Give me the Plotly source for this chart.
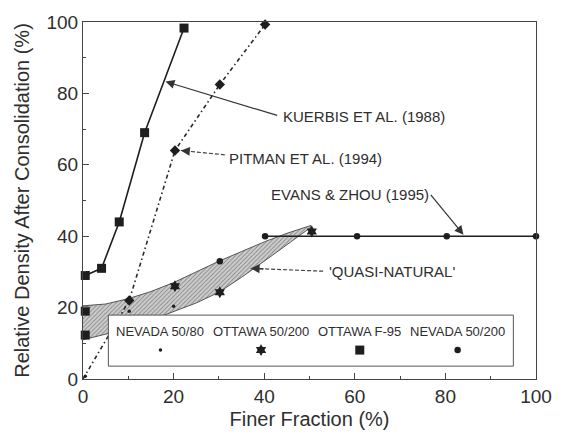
import plotly.graph_objects as go

# ---------------- data ----------------
kuerbis_x = [0.5, 4.1, 8.0, 13.6, 22.3]
kuerbis_y = [29.0, 31.0, 44.0, 69.0, 98.3]

pitman_line_x = [0.0, 10.2, 20.3, 30.2, 40.2]
pitman_line_y = [0.0, 22.0, 64.0, 82.5, 99.3]
pitman_pts_x = [10.2, 20.3, 30.2, 40.2]
pitman_pts_y = [22.0, 64.0, 82.5, 99.3]

evans_line_x = [40.2, 100.0]
evans_line_y = [40.0, 40.0]

nevada_50_80_x = [0.5, 10.2, 20.0]
nevada_50_80_y = [0.8, 19.0, 20.4]
ottawa_50_200_x = [20.3, 30.2, 50.5]
ottawa_50_200_y = [26.0, 24.3, 41.3]
ottawa_f95_x = [0.5, 0.5]
ottawa_f95_y = [19.0, 12.3]
nevada_50_200_x = [30.2, 40.2, 60.5, 80.3, 100.0]
nevada_50_200_y = [33.0, 40.0, 40.0, 40.0, 40.0]

quasi_upper_x = [0, 5, 10, 15, 20, 25, 30, 35, 40, 45, 50.3]
quasi_upper_y = [20.5, 21.0, 22.5, 24.5, 27.0, 30.0, 33.0, 35.7, 38.4, 40.8, 43.0]
quasi_lower_x = [50.3, 45, 40, 35, 30, 25, 20, 14, 8, 3, 0]
quasi_lower_y = [42.5, 37.5, 33.0, 28.5, 24.3, 21.3, 18.8, 16.0, 13.5, 11.8, 11.0]

legend_labels = ["NEVADA 50/80", "OTTAWA 50/200", "OTTAWA F-95", "NEVADA 50/200"]
x_ticks = [0, 20, 40, 60, 80, 100]
y_ticks = [0, 20, 40, 60, 80, 100]

# ---------------- layout constants ----------------
FONT = "Liberation Sans, Arial, Helvetica, sans-serif"
TXT = "#2e2e2e"
LINE = "#1e1e1e"
legend_box = dict(x0=5.6, x1=95.0, y0=3.6, y1=17.9)
legend_label_y = 13.4
legend_marker_y = 8.1
legend_centers = [17.1, 39.3, 61.1, 82.7]

styles = {
    "NEVADA 50/80": dict(symbol="circle", size=3.5, color=LINE),
    "OTTAWA 50/200": dict(symbol="hexagram", size=9, color=LINE),
    "OTTAWA F-95": dict(symbol="square", size=9, color=LINE),
    "NEVADA 50/200": dict(symbol="circle", size=6.5, color=LINE),
}

fig = go.Figure()

# hatched quasi-natural region
fig.add_trace(go.Scatter(
    x=quasi_upper_x + quasi_lower_x, y=quasi_upper_y + quasi_lower_y,
    mode="lines", fill="toself", line=dict(color="#555555", width=1),
    fillcolor="rgba(0,0,0,0)",
    fillpattern=dict(shape="/", fgcolor="#3a3a3a", bgcolor="#cfcfcf", size=3, solidity=0.3),
    hoverinfo="skip", showlegend=False))

# Pitman dash-dot line
fig.add_trace(go.Scatter(x=pitman_line_x, y=pitman_line_y, mode="lines",
                         line=dict(color="#2a2a2a", width=1.6, dash="4px,3px,1.5px,3px"),
                         showlegend=False, cliponaxis=False))

# legend box (white, covers region underneath)
bx = [legend_box["x0"], legend_box["x1"], legend_box["x1"], legend_box["x0"], legend_box["x0"]]
by = [legend_box["y0"], legend_box["y0"], legend_box["y1"], legend_box["y1"], legend_box["y0"]]
fig.add_trace(go.Scatter(x=bx, y=by, mode="lines", fill="toself", fillcolor="white",
                         line=dict(color="#555555", width=1), hoverinfo="skip", showlegend=False))

# Kuerbis line
fig.add_trace(go.Scatter(x=kuerbis_x, y=kuerbis_y, mode="lines+markers",
                         line=dict(color=LINE, width=1.6),
                         marker=dict(symbol="square", size=9, color=LINE),
                         showlegend=False, cliponaxis=False))
# Evans & Zhou line
fig.add_trace(go.Scatter(x=evans_line_x, y=evans_line_y, mode="lines",
                         line=dict(color=LINE, width=1.6), showlegend=False, cliponaxis=False))
# Pitman markers
fig.add_trace(go.Scatter(x=pitman_pts_x, y=pitman_pts_y, mode="markers",
                         marker=dict(symbol="diamond", size=8, color=LINE),
                         showlegend=False, cliponaxis=False))

series = {
    "NEVADA 50/80": (nevada_50_80_x, nevada_50_80_y),
    "OTTAWA 50/200": (ottawa_50_200_x, ottawa_50_200_y),
    "OTTAWA F-95": (ottawa_f95_x, ottawa_f95_y),
    "NEVADA 50/200": (nevada_50_200_x, nevada_50_200_y),
}
for name, (xs, ys) in series.items():
    st = styles[name]
    fig.add_trace(go.Scatter(x=xs, y=ys, mode="markers", name=name,
                             marker=dict(symbol=st["symbol"], size=st["size"], color=st["color"],
                                         line=dict(width=0)),
                             showlegend=False, cliponaxis=False))

# legend markers and labels
for lab, cx in zip(legend_labels, legend_centers):
    st = styles[lab]
    fig.add_trace(go.Scatter(x=[cx], y=[legend_marker_y], mode="markers",
                             marker=dict(symbol=st["symbol"], size=st["size"], color=st["color"]),
                             showlegend=False, hoverinfo="skip"))
    fig.add_annotation(x=cx, y=legend_label_y, text=lab, showarrow=False,
                       xanchor="center", yanchor="middle",
                       font=dict(family=FONT, size=13, color=TXT))

# annotation texts
texts = [
    ("KUERBIS ET AL. (1988)", 43.6, 73.5),
    ("PITMAN ET AL. (1994)", 31.7, 61.7),
    ("EVANS &amp; ZHOU (1995)", 41.0, 51.7),
    ("'QUASI-NATURAL'", 53.8, 30.2),
]
for t, x, y in texts:
    fig.add_annotation(x=x, y=y, text=t, showarrow=False, xanchor="left", yanchor="middle",
                       font=dict(family=FONT, size=15, color=TXT))

# arrows: (tail, tip, dashed)
arrows = [
    ((43.2, 73.7), (18.2, 83.3), False),
    ((31.3, 62.8), (21.6, 64.0), True),
    ((76.5, 52.0), (84.0, 40.4), False),
    ((53.0, 30.2), (37.0, 31.0), True),
]
for (tx, ty), (hx, hy), dashed in arrows:
    if dashed:
        fig.add_shape(type="line", x0=tx, y0=ty, x1=hx, y1=hy,
                      line=dict(color="#444444", width=1.2, dash="4px,2px"))
        ax = hx + (tx - hx) * 0.2
        ay = hy + (ty - hy) * 0.2
    else:
        ax, ay = tx, ty
    fig.add_annotation(x=hx, y=hy, ax=ax, ay=ay, xref="x", yref="y", axref="x", ayref="y",
                       text="", showarrow=True, arrowhead=2, arrowsize=1.5, arrowwidth=1.2,
                       arrowcolor="#333333")

axis_common = dict(
    showgrid=False, zeroline=False, showline=True, linecolor="#444444", linewidth=1.2,
    mirror=True, ticks="inside", ticklen=6, tickwidth=1.2, tickcolor="#444444",
    tickfont=dict(family=FONT, size=19, color=TXT),
    minor=dict(ticks="inside", ticklen=3, tickwidth=1, tickcolor="#444444", dtick=10),
)
fig.update_xaxes(range=[0, 100], tickvals=x_ticks, ticktext=[str(v) for v in x_ticks],
                 title=dict(text="Finer Fraction (%)", font=dict(family=FONT, size=20, color=TXT),
                            standoff=6),
                 **axis_common)
fig.update_yaxes(range=[0, 100], tickvals=y_ticks, ticktext=[str(v) for v in y_ticks],
                 title=dict(text="Relative Density After Consolidation (%)",
                            font=dict(family=FONT, size=20, color=TXT), standoff=11),
                 **axis_common)

fig.update_layout(width=564, height=439, margin=dict(l=83, r=17, t=22, b=58),
                  paper_bgcolor="white", plot_bgcolor="white", showlegend=False)

fig.write_html("out.html")
